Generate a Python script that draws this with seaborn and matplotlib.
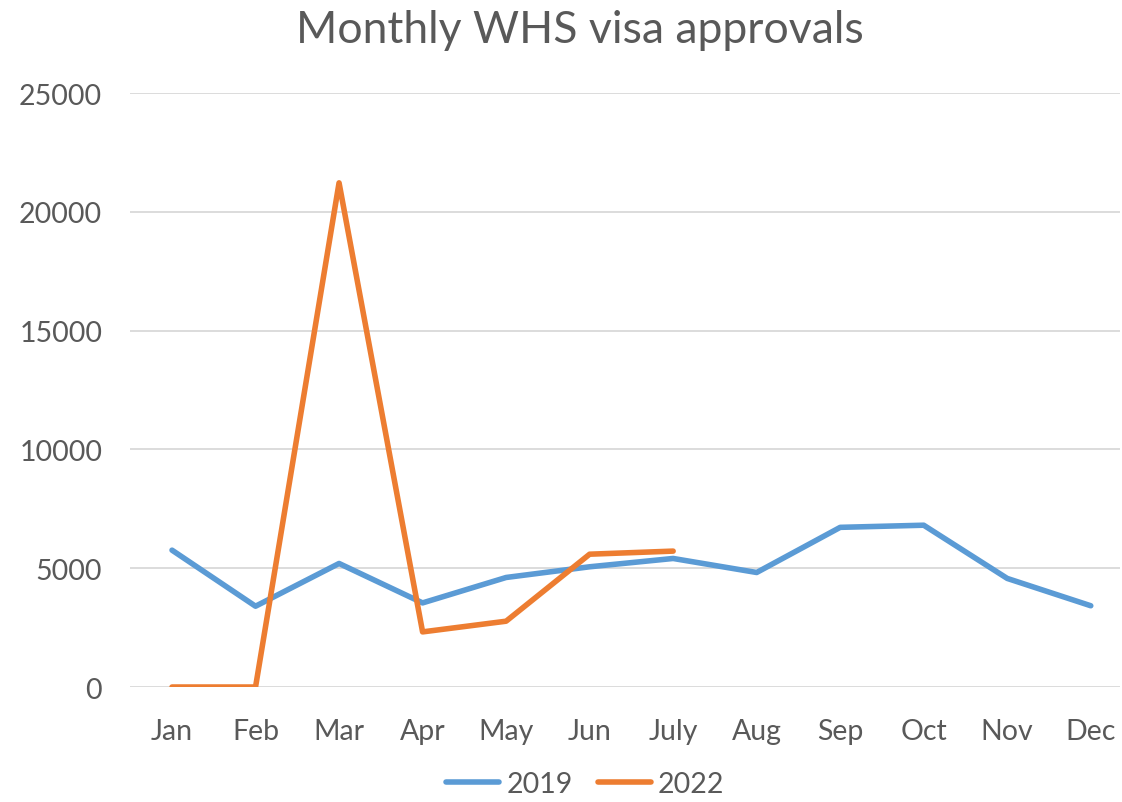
import pandas as pd
import seaborn as sns
import matplotlib.pyplot as plt

# Monthly approvals
months = ['Jan', 'Feb', 'Mar', 'Apr', 'May', 'Jun', 'July', 'Aug', 'Sep', 'Oct', 'Nov', 'Dec']
approvals_2019 = [5760, 3400, 5200, 3540, 4610, 5060, 5410, 4820, 6720, 6810, 4570, 3420]
approvals_2022 = [0, 0, 21220, 2320, 2770, 5590, 5720]

rows = [{'month': m, 'approvals': v, 'year': '2019'} for m, v in zip(months, approvals_2019)]
rows += [{'month': m, 'approvals': v, 'year': '2022'} for m, v in zip(months, approvals_2022)]
data = pd.DataFrame(rows)

sns.set_style('white')
plt.rcParams['font.family'] = ['Lato', 'DejaVu Sans']
text_grey = '#595959'

fig = plt.figure(figsize=(11.22, 8.03), dpi=100)
ax = fig.add_axes([130 / 1122, 0.1432, 990 / 1122, 0.7397])

sns.lineplot(data=data, x='month', y='approvals', hue='year', sort=False,
             palette={'2019': '#5B9BD5', '2022': '#ED7D31'}, linewidth=4,
             solid_capstyle='round', ax=ax)

ax.set_xlim(-0.503, 11.35)
ax.set_ylim(0, 25000)
ax.set_yticks(range(0, 25001, 5000))
ax.yaxis.grid(True, color='#D9D9D9', linewidth=1.3)
ax.set_axisbelow(True)
for s in ax.spines.values():
    s.set_visible(False)
ax.tick_params(axis='both', length=0, labelsize=20.5, colors=text_grey)
ax.tick_params(axis='x', pad=22)
ax.tick_params(axis='y', pad=20)
ax.set_xlabel('')
ax.set_ylabel('')

fig.suptitle('Monthly WHS visa approvals', x=0.517, y=0.987, fontsize=32, color=text_grey)

ax.legend(loc='center', bbox_to_anchor=(0.46, -0.163), ncol=2, frameon=False,
          fontsize=20.5, labelcolor=text_grey, handlelength=1.85, columnspacing=0.9,
          handletextpad=0.25, borderaxespad=0, borderpad=0.1)

fig.savefig('out.png', dpi=100)
